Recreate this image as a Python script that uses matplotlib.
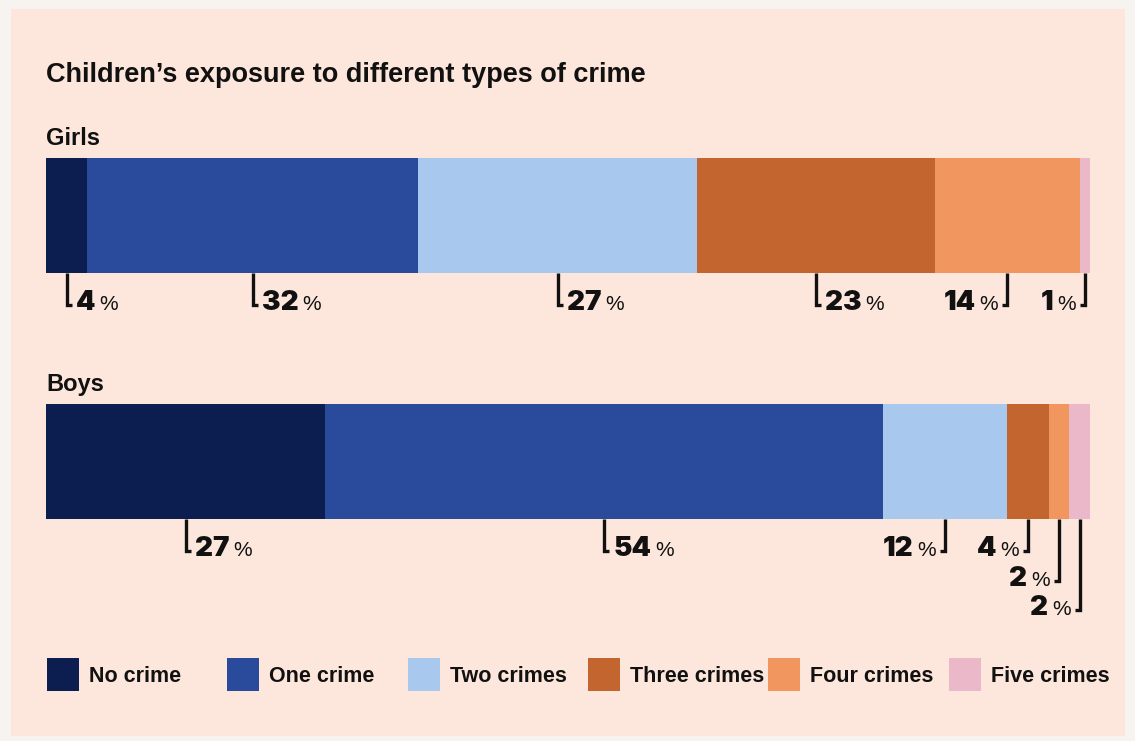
import matplotlib
matplotlib.use("Agg")
import matplotlib.pyplot as plt
from matplotlib.patches import Rectangle
from matplotlib import font_manager as fm
import numpy as np

# ---------------- data ----------------
categories = ["No crime", "One crime", "Two crimes", "Three crimes", "Four crimes", "Five crimes"]
groups = ["Girls", "Boys"]
girls = [4, 32, 27, 23, 14, 1]
boys = [27, 54, 12, 4, 2, 2]
colors = ["#0c1e50", "#2a4b9c", "#a9c8ee", "#c3652f", "#f1965e", "#eab8c9"]
title = "Children\u2019s exposure to different types of crime"

# label side: +1 text right of leader, -1 text left of leader; row index
girls_side = [1, 1, 1, 1, -1, -1]
girls_row = [0, 0, 0, 0, 0, 0]
boys_side = [1, 1, -1, -1, -1, -1]
boys_row = [0, 0, 0, 0, 1, 2]

# ---------------- fonts ----------------
flist = fm.fontManager.ttflist
avail = {f.name for f in flist}
FONT = "Liberation Sans" if "Liberation Sans" in avail else "DejaVu Sans"
NARROW = "Liberation Sans Narrow" if "Liberation Sans Narrow" in avail else FONT
heavy = [f for f in flist if f.name in ("Lato", "Roboto", "Inter", "Open Sans")
         and isinstance(f.weight, int) and f.weight >= 800 and "Italic" not in f.style.title()
         and f.style == "normal"]
if heavy:
    NUMFONT, NUMWEIGHT = heavy[0].name, heavy[0].weight
else:
    NUMFONT, NUMWEIGHT = FONT, "bold"
plt.rcParams["font.family"] = [FONT, "DejaVu Sans"]

W, H = 1135, 741
fig = plt.figure(figsize=(W / 100, H / 100), dpi=100)
fig.patch.set_facecolor("#f7f3f1")

ax_bg = fig.add_axes([0, 0, 1, 1], zorder=-1)
ax_bg.set_axis_off()
ax_bg.set_xlim(0, W)
ax_bg.set_ylim(H, 0)
ax_bg.add_patch(Rectangle((11, 9), 1114, 727, facecolor="#fde6db", edgecolor="none"))

ax = fig.add_axes([0, 0, 1, 1])
ax.set_axis_off()
ax.patch.set_alpha(0)

# bar axis: x in percent units, y in pixel units (inverted)
x0_px, x1_px = 46, 1090
total = float(sum(girls))
s = (x1_px - x0_px) / total  # pixels per percent
ax.set_xlim(-x0_px / s, (W - x0_px) / s)
ax.set_ylim(H, 0)

bar_h = 115
bar_tops = {"Girls": 158, "Boys": 404}
row_gap = 29.5
base_off = 37

def px(dx):
    return dx / s

for gname, vals, sides, rows in [("Girls", girls, girls_side, girls_row),
                                  ("Boys", boys, boys_side, boys_row)]:
    top = bar_tops[gname]
    lefts = np.concatenate([[0], np.cumsum(vals)[:-1]])
    ax.barh(top + bar_h / 2, vals, left=lefts, height=bar_h, color=colors,
            edgecolor="none", linewidth=0)
    ax.text(0, top - 13, gname, fontsize=17, fontweight="bold",
            color="#111111", va="baseline", ha="left")
    bottom = top + bar_h
    for v, l, sd, r in zip(vals, lefts, sides, rows):
        lx = l + v / 2
        yb = bottom + base_off + r * row_gap
        yh = yb - 5
        ax.plot([lx, lx, lx + sd * px(5)], [bottom, yh, yh], color="#111111",
                lw=2.4, solid_capstyle="butt", solid_joinstyle="miter")
        if sd > 0:
            t = ax.annotate(str(v), xy=(lx, yb), xytext=(9, 0),
                            textcoords="offset pixels", fontsize=20,
                            family=[NUMFONT, "DejaVu Sans"], fontweight=NUMWEIGHT,
                            color="#111111", ha="left", va="baseline")
            ax.annotate("%", xy=(1, yb), xycoords=(t, "data"), xytext=(4, 0),
                        textcoords="offset pixels", fontsize=15,
                        family=[NARROW, "DejaVu Sans"],
                        color="#111111", ha="left", va="baseline")
        else:
            p = ax.annotate("%", xy=(lx, yb), xytext=(-9, 0),
                            textcoords="offset pixels", fontsize=15,
                            family=[NARROW, "DejaVu Sans"],
                            color="#111111", ha="right", va="baseline")
            ax.annotate(str(v), xy=(0, yb), xycoords=(p, "data"), xytext=(-4, 0),
                        textcoords="offset pixels", fontsize=20,
                        family=[NUMFONT, "DejaVu Sans"], fontweight=NUMWEIGHT,
                        color="#111111", ha="right", va="baseline")

# title
ax.text(0, 82, title, fontsize=19.5, fontweight="bold", color="#111111",
        ha="left", va="baseline")

# legend
leg_x = [47, 227, 408, 588, 768, 949]
for c, name, lxp in zip(colors, categories, leg_x):
    ax_bg.add_patch(Rectangle((lxp, 658), 32, 33, facecolor=c, edgecolor="none"))
    ax_bg.text(lxp + 42, 682, name, fontsize=15.5, fontweight="bold",
               color="#111111", ha="left", va="baseline")

fig.savefig("out.png", dpi=100, facecolor=fig.get_facecolor())
